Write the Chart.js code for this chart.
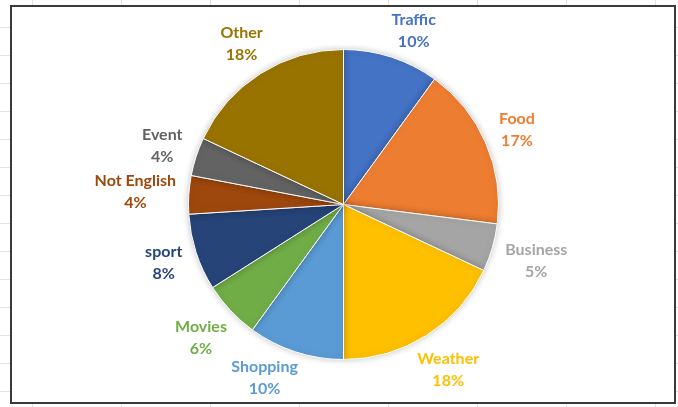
<!DOCTYPE html>
<html lang="en">
<head>
    <meta charset="UTF-8" />
    <title>Tweet Topics</title>
    <style>
        html, body {
            margin: 0;
            padding: 0;
        }
        body {
            width: 678px;
            height: 407px;
            overflow: hidden;
            position: relative;
            background-color: #fff;
            background-image:
                repeating-linear-gradient(90deg, transparent 0, transparent 32px, #e2e2e2 32px, #e2e2e2 33px, transparent 33px, transparent 89px),
                repeating-linear-gradient(180deg, transparent 0, transparent 27px, #e2e2e2 27px, #e2e2e2 28px);
        }
        #frame {
            position: absolute;
            left: 10px;
            top: 5px;
            width: 666px;
            height: 399px;
            box-sizing: border-box;
            border: 2px solid #3a3a3a;
            background: #fff;
        }
        #chart-container {
            position: absolute;
            left: 0;
            top: 0;
            width: 678px;
            height: 407px;
        }
    </style>
    <script src="https://cdn.jsdelivr.net/npm/chart.js"></script>
</head>
<body>
<div id="frame"></div>
<div id="chart-container">
    <canvas id="topicChart"></canvas>
</div>

<script>
  const topics = ["Traffic", "Food", "Business", "Weather", "Shopping", "Movies", "sport", "Not English", "Event", "Other"];
  const shares = [10, 17, 5, 18, 10, 6, 8, 4, 4, 18];
  const colors = ["#4472C4", "#ED7D31", "#A5A5A5", "#FFC000", "#5B9BD5", "#70AD47", "#264478", "#9E480E", "#636363", "#997300"];

  const FONT = "bold 16px Lato, 'Open Sans', sans-serif";
  const LINE = 22;

  // soft shadow under the pie
  const pieShadow = {
    id: "pieShadow",
    beforeDatasetsDraw(chart) {
      const ctx = chart.ctx;
      ctx.save();
      ctx.shadowColor = "rgba(0, 0, 0, 0.22)";
      ctx.shadowBlur = 7;
    },
    afterDatasetsDraw(chart) {
      chart.ctx.restore();
    },
  };

  // name + percent outside each slice, in the slice colour.
  // A label that would leave the frame slides round the pie until it fits.
  const outsideLabels = {
    id: "outsideLabels",
    afterDatasetsDraw(chart) {
      const ctx = chart.ctx;
      const meta = chart.getDatasetMeta(0);
      const total = shares.reduce((a, b) => a + b, 0);
      const minY = 5 + LINE + 4;
      const maxY = chart.height - 3 - LINE - 4;
      ctx.save();
      ctx.font = FONT;
      ctx.textAlign = "center";
      ctx.textBaseline = "middle";
      meta.data.forEach((arc, i) => {
        const p = arc.getProps(["x", "y", "startAngle", "endAngle", "outerRadius"], true);
        const mid = (p.startAngle + p.endAngle) / 2;
        const cos = Math.cos(mid);
        const sin = Math.sin(mid);
        const pct = Math.round((shares[i] / total) * 100) + "%";
        const halfW = Math.max(ctx.measureText(topics[i]).width, ctx.measureText(pct).width) / 2;
        const dist = p.outerRadius + 12 + Math.abs(cos) * halfW + Math.abs(sin) * 14;
        let cx = p.x + cos * dist;
        let cy = p.y + sin * dist;
        if (cy < minY || cy > maxY) {
          cy = Math.min(maxY, Math.max(minY, cy));
          const dy = cy - p.y;
          cx = p.x + Math.sign(cos) * Math.sqrt(Math.max(dist * dist - dy * dy, 0));
        }
        ctx.fillStyle = colors[i];
        ctx.fillText(topics[i], cx, cy - LINE / 2);
        ctx.fillText(pct, cx, cy + LINE / 2);
      });
      ctx.restore();
    },
  };

  const ctx = document.getElementById("topicChart").getContext("2d");
  new Chart(ctx, {
    type: "pie",
    data: {
      labels: topics,
      datasets: [
        {
          data: shares,
          backgroundColor: colors,
          borderColor: "#ffffff",
          borderWidth: 1,
          hoverOffset: 0,
        },
      ],
    },
    options: {
      responsive: true,
      maintainAspectRatio: false,
      animation: false,
      layout: {
        padding: { left: 188, right: 179, top: 49, bottom: 47 },
      },
      plugins: {
        legend: { display: false },
        tooltip: { enabled: false },
      },
    },
    plugins: [pieShadow, outsideLabels],
  });
</script>
</body>
</html>
